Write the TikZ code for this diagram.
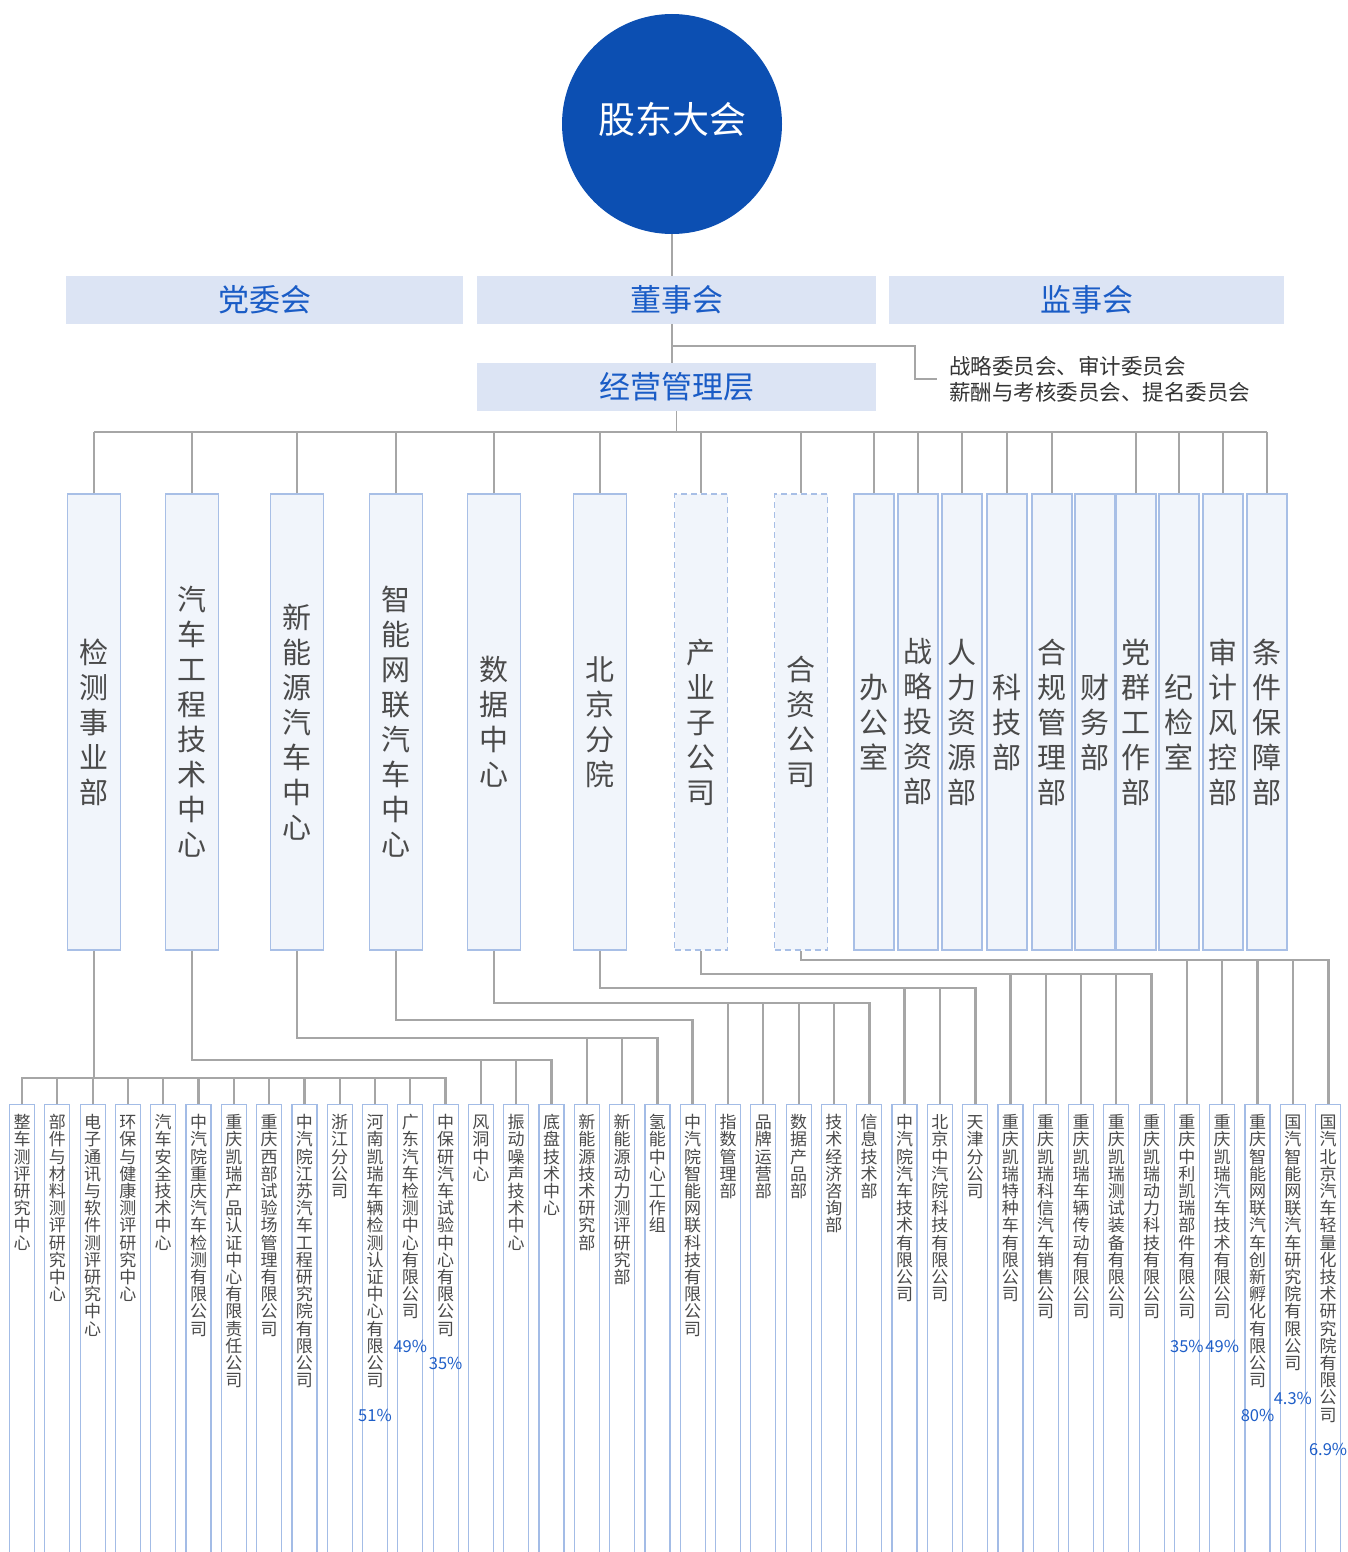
\documentclass[tikz,border=0pt]{standalone}
\usepackage{fontspec}
\setmainfont{Noto Sans CJK SC}
\usetikzlibrary{positioning}

\definecolor{zhblue}{HTML}{0C4FB2}
\definecolor{boardfill}{HTML}{DCE4F4}
\definecolor{boardtext}{HTML}{1A5CC6}
\definecolor{deptfill}{HTML}{F1F5FB}
\definecolor{deptline}{HTML}{A8BFE6}
\definecolor{leafline}{HTML}{A3BCE6}
\definecolor{linegray}{HTML}{A6A6A6}
\definecolor{txtgray}{HTML}{4A4A4A}
\definecolor{pctblue}{HTML}{1E5EC8}

% vertical text, one character per line
\makeatletter
\newcommand\vtxt[1]{\vtop{\lineskiplimit=-20pt\@tfor\vt@c:=#1\do{\hbox to 1em{\hss\vt@c\hss}}}}
\makeatother

\begin{document}
\begin{tikzpicture}[x=1pt,y=-1pt,node distance=35.3pt,
    link/.style={draw=linegray,line width=1.8pt},
    route/.style={draw=linegray,line width=2.8pt},
    drop/.style={draw=linegray,line width=2.2pt},
    board/.style={fill=boardfill,minimum height=48pt,text=boardtext,font=\fontsize{31}{31}\selectfont},
    dept/.style={draw=deptline,line width=1.5pt,fill=deptfill,minimum width=40pt,minimum height=456pt,inner sep=0pt,text=txtgray,font=\fontsize{29}{35}\selectfont},
    dashdept/.style={dept,dash pattern=on 6pt off 4pt},
    leaf/.style={draw=leafline,line width=1.2pt,fill=white,anchor=north,minimum width=25pt,inner xsep=0pt,inner ysep=8pt,text height=16pt,text depth=440pt,text=txtgray,font=\fontsize{17}{17.2}\selectfont},
    pct/.style={text=pctblue,inner sep=0pt,outer sep=0pt,font=\fontsize{16.5}{16.5}\selectfont},
    committee/.style={anchor=west,align=left,inner xsep=12pt,text=txtgray!70!black,font=\fontsize{21.5}{26}\selectfont}]
    \useasboundingbox (0,0) rectangle (1347,1552);

    % top
    \node[circle,fill=zhblue,minimum size=220pt,text=white,font=\fontsize{37}{37}\selectfont] (gd) at (672,124) {\raisebox{12pt}{股东大会}};
    \node[board,minimum width=397pt] (dw) at (264.5,300) {党委会};
    \node[board,minimum width=399pt] (ds) at (676.5,300) {董事会};
    \node[board,minimum width=395pt] (js) at (1086.5,300) {监事会};
    \node[board,minimum width=399pt] (jy) at (676.5,387) {经营管理层};
    \node[committee] (wy) at (937,379) {战略委员会、审计委员会\\薪酬与考核委员会、提名委员会};
    \coordinate (cj) at (672,346);
    \draw[link] (gd.south) -- (gd.south |- ds.north);
    \draw[link] (gd.south |- ds.south) -- (gd.south |- jy.north);
    \draw[link] (cj) -| ([xshift=-22pt]wy.west) -- (wy.west);

    % departments
    \node[dept,minimum width=53pt] (d1) at (94,722) {\vtxt{检测事业部}};
    \node[dept,minimum width=53pt] (d2) at (192,722) {\vtxt{汽车工程技术中心}};
    \node[dept,minimum width=53pt] (d3) at (297,722) {\vtxt{新能源汽车中心}};
    \node[dept,minimum width=53pt] (d4) at (396,722) {\vtxt{智能网联汽车中心}};
    \node[dept,minimum width=53pt] (d5) at (494,722) {\vtxt{数据中心}};
    \node[dept,minimum width=53pt] (d6) at (600,722) {\vtxt{北京分院}};
    \node[dashdept,minimum width=53pt] (d7) at (701,722) {\vtxt{产业子公司}};
    \node[dashdept,minimum width=53pt] (d8) at (801,722) {\vtxt{合资公司}};
    \node[dept] (d9) at (874,722) {\vtxt{办公室}};
    \node[dept] (d10) at (918,722) {\vtxt{战略投资部}};
    \node[dept] (d11) at (962,722) {\vtxt{人力资源部}};
    \node[dept] (d12) at (1007,722) {\vtxt{科技部}};
    \node[dept] (d13) at (1052,722) {\vtxt{合规管理部}};
    \node[dept] (d14) at (1095,722) {\vtxt{财务部}};
    \node[dept] (d15) at (1136,722) {\vtxt{党群工作部}};
    \node[dept] (d16) at (1179,722) {\vtxt{纪检室}};
    \node[dept] (d17) at (1223,722) {\vtxt{审计风控部}};
    \node[dept] (d18) at (1267,722) {\vtxt{条件保障部}};
    \draw[link] (jy.south) -- ++(0,22);
    \draw[link] ([yshift=61pt]d1.north) -- ([yshift=61pt]d18.north);
    \draw[link] (d1.north) -- ++(0,-61) (d2.north) -- ++(0,-61) (d3.north) -- ++(0,-61)
        (d4.north) -- ++(0,-61) (d5.north) -- ++(0,-61) (d6.north) -- ++(0,-61)
        (d7.north) -- ++(0,-61) (d8.north) -- ++(0,-61) (d9.north) -- ++(0,-61)
        (d10.north) -- ++(0,-61) (d11.north) -- ++(0,-61) (d12.north) -- ++(0,-61)
        (d13.north) -- ++(0,-61) (d15.north) -- ++(0,-61) (d16.north) -- ++(0,-61)
        (d17.north) -- ++(0,-61) (d18.north) -- ++(0,-61);

    % units
    \node[leaf] (l0) at (22,1104) {\vtxt{整车测评研究中心}};
    \node[leaf] (l1) [right of=l0] {\vtxt{部件与材料测评研究中心}};
    \node[leaf] (l2) [right of=l1] {\vtxt{电子通讯与软件测评研究中心}};
    \node[leaf] (l3) [right of=l2] {\vtxt{环保与健康测评研究中心}};
    \node[leaf] (l4) [right of=l3] {\vtxt{汽车安全技术中心}};
    \node[leaf] (l5) [right of=l4] {\vtxt{中汽院重庆汽车检测有限公司}};
    \node[leaf] (l6) [right of=l5] {\vtxt{重庆凯瑞产品认证中心有限责任公司}};
    \node[leaf] (l7) [right of=l6] {\vtxt{重庆西部试验场管理有限公司}};
    \node[leaf] (l8) [right of=l7] {\vtxt{中汽院江苏汽车工程研究院有限公司}};
    \node[leaf] (l9) [right of=l8] {\vtxt{浙江分公司}};
    \node[leaf] (l10) [right of=l9] {\vtxt{河南凯瑞车辆检测认证中心有限公司}};
    \node[leaf] (l11) [right of=l10] {\vtxt{广东汽车检测中心有限公司}};
    \node[leaf] (l12) [right of=l11] {\vtxt{中保研汽车试验中心有限公司}};
    \node[leaf] (l13) [right of=l12] {\vtxt{风洞中心}};
    \node[leaf] (l14) [right of=l13] {\vtxt{振动噪声技术中心}};
    \node[leaf] (l15) [right of=l14] {\vtxt{底盘技术中心}};
    \node[leaf] (l16) [right of=l15] {\vtxt{新能源技术研究部}};
    \node[leaf] (l17) [right of=l16] {\vtxt{新能源动力测评研究部}};
    \node[leaf] (l18) [right of=l17] {\vtxt{氢能中心工作组}};
    \node[leaf] (l19) [right of=l18] {\vtxt{中汽院智能网联科技有限公司}};
    \node[leaf] (l20) [right of=l19] {\vtxt{指数管理部}};
    \node[leaf] (l21) [right of=l20] {\vtxt{品牌运营部}};
    \node[leaf] (l22) [right of=l21] {\vtxt{数据产品部}};
    \node[leaf] (l23) [right of=l22] {\vtxt{技术经济咨询部}};
    \node[leaf] (l24) [right of=l23] {\vtxt{信息技术部}};
    \node[leaf] (l25) [right of=l24] {\vtxt{中汽院汽车技术有限公司}};
    \node[leaf] (l26) [right of=l25] {\vtxt{北京中汽院科技有限公司}};
    \node[leaf] (l27) [right of=l26] {\vtxt{天津分公司}};
    \node[leaf] (l28) [right of=l27] {\vtxt{重庆凯瑞特种车有限公司}};
    \node[leaf] (l29) [right of=l28] {\vtxt{重庆凯瑞科信汽车销售公司}};
    \node[leaf] (l30) [right of=l29] {\vtxt{重庆凯瑞车辆传动有限公司}};
    \node[leaf] (l31) [right of=l30] {\vtxt{重庆凯瑞测试装备有限公司}};
    \node[leaf] (l32) [right of=l31] {\vtxt{重庆凯瑞动力科技有限公司}};
    \node[leaf] (l33) [right of=l32] {\vtxt{重庆中利凯瑞部件有限公司}};
    \node[leaf] (l34) [right of=l33] {\vtxt{重庆凯瑞汽车技术有限公司}};
    \node[leaf] (l35) [right of=l34] {\vtxt{重庆智能网联汽车创新孵化有限公司}};
    \node[leaf] (l36) [right of=l35] {\vtxt{国汽智能网联汽车研究院有限公司}};
    \node[leaf] (l37) [right of=l36] {\vtxt{国汽北京汽车轻量化技术研究院有限公司}};

    % shares
    \node[pct] (p10) [below=305pt of l10.north] {51\%};
    \node[pct] (p11) [below=236pt of l11.north] {49\%};
    \node[pct] (p12) [below=253pt of l12.north] {35\%};
    \node[pct] (p33) [below=236pt of l33.north] {35\%};
    \node[pct] (p34) [below=236pt of l34.north] {49\%};
    \node[pct] (p35) [below=305pt of l35.north] {80\%};
    \node[pct] (p36) [below=288pt of l36.north] {4.3\%};
    \node[pct] (p37) [below=339pt of l37.north] {6.9\%};

    % department to units
    \draw[route] (d1.south) -- ++(0,128);
    \draw[route] (l0.north) |- ([yshift=26pt]l12.north) -- (l12.north);
    \draw[drop] (l1.north) -- ++(0,-26) (l2.north) -- ++(0,-26) (l3.north) -- ++(0,-26)
        (l4.north) -- ++(0,-26) (l5.north) -- ++(0,-26) (l6.north) -- ++(0,-26)
        (l7.north) -- ++(0,-26) (l8.north) -- ++(0,-26) (l9.north) -- ++(0,-26)
        (l10.north) -- ++(0,-26) (l11.north) -- ++(0,-26);
    \draw[route] (d2.south) |- ([yshift=44pt]l15.north) -- (l15.north);
    \draw[drop] (l13.north) -- ++(0,-44) (l14.north) -- ++(0,-44);
    \draw[route] (d3.south) |- ([yshift=66pt]l18.north) -- (l18.north);
    \draw[drop] (l16.north) -- ++(0,-66) (l17.north) -- ++(0,-66);
    \draw[route] (d4.south) |- ([yshift=84pt]l19.north) -- (l19.north);
    \draw[route] (d5.south) |- ([yshift=101pt]l24.north) -- (l24.north);
    \draw[drop] (l20.north) -- ++(0,-101) (l21.north) -- ++(0,-101) (l22.north) -- ++(0,-101)
        (l23.north) -- ++(0,-101);
    \draw[route] (d6.south) |- ([yshift=116pt]l27.north) -- (l27.north);
    \draw[drop] (l25.north) -- ++(0,-116) (l26.north) -- ++(0,-116);
    \draw[route] (d7.south) |- ([yshift=130pt]l32.north) -- (l32.north);
    \draw[drop] (l28.north) -- ++(0,-130) (l29.north) -- ++(0,-130) (l30.north) -- ++(0,-130)
        (l31.north) -- ++(0,-130);
    \draw[route] (d8.south) |- ([yshift=144pt]l37.north) -- (l37.north);
    \draw[drop] (l33.north) -- ++(0,-144) (l34.north) -- ++(0,-144) (l35.north) -- ++(0,-144)
        (l36.north) -- ++(0,-144);
\end{tikzpicture}
\end{document}
